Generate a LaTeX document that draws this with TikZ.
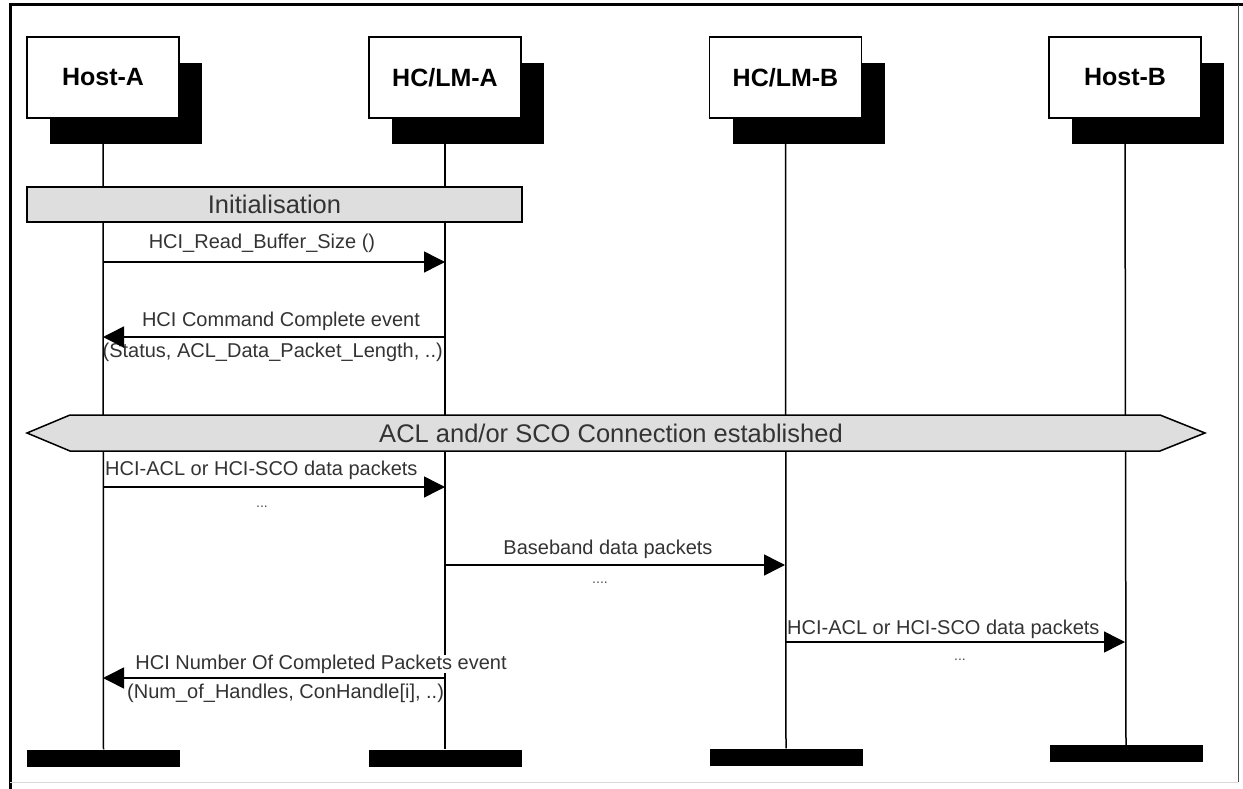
\documentclass[tikz,border=0pt]{standalone}
\usepackage{fontspec}
\setmainfont{Liberation Sans}
\usetikzlibrary{arrows.meta,shadows}
\begin{document}
\begin{tikzpicture}[x=1pt,y=-1pt,
  lab/.style={font=\fontsize{20}{22}\selectfont, text=black!80, inner sep=1pt},
  dots/.style={font=\fontsize{14}{16}\selectfont, text=black!70, inner sep=0pt},
  big/.style={font=\fontsize{25.5}{28}\selectfont, text=black!80},
  box/.style={draw=black, line width=1.6pt, fill=white, minimum width=152pt, minimum height=81pt,
    inner sep=0pt, font=\fontsize{25}{28}\selectfont\bfseries,
    general shadow={fill=black, shadow xshift=23pt, shadow yshift=-26pt}},
  endbar/.style={fill=black, minimum width=153pt, minimum height=17pt, inner sep=0pt},
  life/.style={line width=1.5pt},
  band/.style={draw=black, line width=1.5pt, fill=black!13},
  msg/.style={line width=1.5pt, -{Triangle[length=21pt,width=21pt]}}
]
\useasboundingbox (0,0) rectangle (1243,789);
% frame
\draw[line width=3pt] (10,789) -- (10,5) -- (1243,5);
\draw[line width=1pt, black!70] (1238,5) -- (1238,782);
\draw[line width=0.8pt, black!15] (10,782) -- (1238,782);

% actors
\node[box] (hostA) at (103,77.5) {Host-A};
\node[box] (hclmA) at (445,77.5) {HC/LM-A};
\node[box] (hclmB) at (785.5,77.5) {HC/LM-B};
\node[box] (hostB) at (1125,77.5) {Host-B};

% end bars
\node[endbar] (endA) at (103.5,758) {};
\node[endbar] (endHA) at (445,758) {};
\node[endbar] (endHB) at (786,757) {};
\node[endbar] (endB) at (1126,753.5) {};

% lifelines
\draw[life] (hostA.south) -- (endA.north);
\draw[life] (hclmA.south) -- (endHA.north);
\draw[life] (hclmB.south) -- (endHB.north);
\draw[life] (hostB.south) -- (endB.north);

% initialisation
\node[band, big, minimum width=495pt, minimum height=35pt, inner sep=0pt] (init) at (274.5,204.5) {Initialisation};

% message 1
\coordinate (m1s) at (103,262);
\coordinate (m1e) at (445,262);
\node[lab] (l1) at (262,243) {HCI\_Read\_Buffer\_Size ()};
\draw[msg] (m1s) -- (m1e);

% message 2
\coordinate (m2s) at (445,337);
\coordinate (m2e) at (103,337);
\node[lab] (l2a) at (281,321) {HCI Command Complete event};
\node[lab, anchor=east] (l2b) at (444,352) {(Status, ACL\_Data\_Packet\_Length, ..)};
\draw[msg] (m2s) -- (m2e);

% connection banner
\path[band] (27,433) -- (70,415) -- (1160,415) -- (1205,433) -- (1160,451) -- (70,451) -- cycle;
\node[big] (conn) at (611,433) {ACL and/or SCO Connection established};

% message 3
\coordinate (m3s) at (103,487);
\coordinate (m3e) at (445,487);
\node[lab, anchor=west] (l3) at (104,470) {HCI-ACL or HCI-SCO data packets};
\node[dots] (d3) at (262,507) {...};
\draw[msg] (m3s) -- (m3e);

% message 4
\coordinate (m4s) at (445,565);
\coordinate (m4e) at (785,565);
\node[lab] (l4) at (608,549) {Baseband data packets};
\node[dots] (d4) at (600,583) {....};
\draw[msg] (m4s) -- (m4e);

% message 5
\coordinate (m5s) at (785,642);
\coordinate (m5e) at (1125,642);
\node[lab, anchor=west] (l5) at (786,629) {HCI-ACL or HCI-SCO data packets};
\node[dots] (d5) at (960,660) {...};
\draw[msg] (m5s) -- (m5e);

% message 6
\coordinate (m6s) at (445,678);
\coordinate (m6e) at (103,678);
\node[lab, fill=white, inner ysep=0pt] (l6a) at (321,664) {HCI Number Of Completed Packets event};
\node[lab, anchor=west] (l6b) at (126,693) {(Num\_of\_Handles, ConHandle[i], ..)};
\draw[msg] (m6s) -- (m6e);
\end{tikzpicture}
\end{document}
